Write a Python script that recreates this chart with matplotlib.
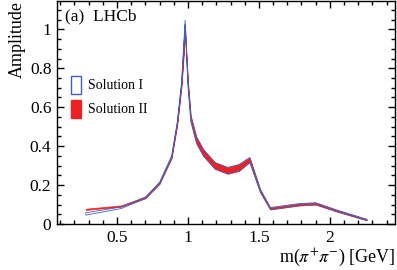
import numpy as np
import matplotlib
matplotlib.use("Agg")
import matplotlib.pyplot as plt
from matplotlib.patches import Patch
from matplotlib.ticker import MultipleLocator

plt.rcParams["font.family"] = ["Liberation Serif", "DejaVu Serif"]
plt.rcParams["mathtext.fontset"] = "stix"

# m(pi+ pi-) points [GeV]
mass = [0.28, 0.53, 0.70, 0.80, 0.885, 0.925, 0.955, 0.98, 1.0, 1.02, 1.06,
        1.11, 1.19, 1.28, 1.36, 1.435, 1.51, 1.58, 1.78, 1.90, 2.05, 2.26]

# Solution I (blue outline band)
sol1_val = [0.052, 0.084, 0.135, 0.210, 0.345, 0.52, 0.72, 1.035, 0.72, 0.54, 0.43,
            0.365, 0.300, 0.275, 0.290, 0.330, 0.170, 0.080, 0.100, 0.105, 0.068, 0.022]
sol1_err = [0.006, 0.004, 0.004, 0.005, 0.006, 0.008, 0.010, 0.012, 0.012, 0.014, 0.016,
            0.016, 0.016, 0.016, 0.016, 0.012, 0.007, 0.005, 0.005, 0.005, 0.004, 0.003]

# Solution II (red filled band)
sol2_val = [0.076, 0.093, 0.137, 0.212, 0.345, 0.52, 0.72, 0.990, 0.72, 0.54, 0.43,
            0.365, 0.300, 0.275, 0.290, 0.330, 0.170, 0.080, 0.100, 0.105, 0.068, 0.022]
sol2_err = [0.003, 0.003, 0.004, 0.005, 0.006, 0.008, 0.010, 0.015, 0.013, 0.015, 0.017,
            0.017, 0.017, 0.017, 0.017, 0.012, 0.007, 0.005, 0.005, 0.005, 0.004, 0.003]

x = np.array(mass)
s1 = np.array(sol1_val); e1 = np.array(sol1_err)
s2 = np.array(sol2_val); e2 = np.array(sol2_err)

blue = "#4060b8"
red = "#ee2024"

fig = plt.figure(figsize=(3.97, 2.70), dpi=100)
ax = fig.add_axes([0.1436, 0.170, 0.851, 0.826])

ax.fill_between(x, s2 - e2, s2 + e2, facecolor=red, edgecolor=red, lw=0.5)
ax.fill_between(x, s1 - e1, s1 + e1, facecolor="none", edgecolor=blue, lw=0.6)

ax.set_xlim(0.077, 2.458)
ax.set_ylim(0, 1.145)
ax.xaxis.set_minor_locator(MultipleLocator(0.1))
ax.yaxis.set_minor_locator(MultipleLocator(0.05))
ax.set_xticks([0.5, 1, 1.5, 2])
ax.set_xticklabels(["0.5", "1", "1.5", "2"])
ax.set_yticks([0, 0.2, 0.4, 0.6, 0.8, 1])
ax.set_yticklabels(["0", "0.2", "0.4", "0.6", "0.8", "1"])

ax.tick_params(which="both", direction="in", top=True, right=True, width=1.0,
               labelsize=12.5, pad=4)
ax.tick_params(which="major", length=5)
ax.tick_params(which="minor", length=3)
for sp in ax.spines.values():
    sp.set_linewidth(1.0)

ax.set_xlabel(r"m($\pi^{+}\pi^{-}$) [GeV]", fontsize=13, loc="right", labelpad=1)
ax.set_ylabel("Amplitude", fontsize=13, loc="top", labelpad=3)

ax.text(0.025, 0.965, "(a)  LHCb", transform=ax.transAxes, fontsize=12.5,
        ha="left", va="top")

handles = [Patch(facecolor="white", edgecolor=blue, lw=1.0),
           Patch(facecolor=red, edgecolor=red)]
ax.legend(handles, ["Solution I", "Solution II"], loc="upper left",
          bbox_to_anchor=(0.025, 0.69), frameon=False, fontsize=10,
          handlelength=0.75, handleheight=1.6, handletextpad=0.5,
          labelspacing=0.45, borderaxespad=0)

fig.savefig("out.png", dpi=100)
